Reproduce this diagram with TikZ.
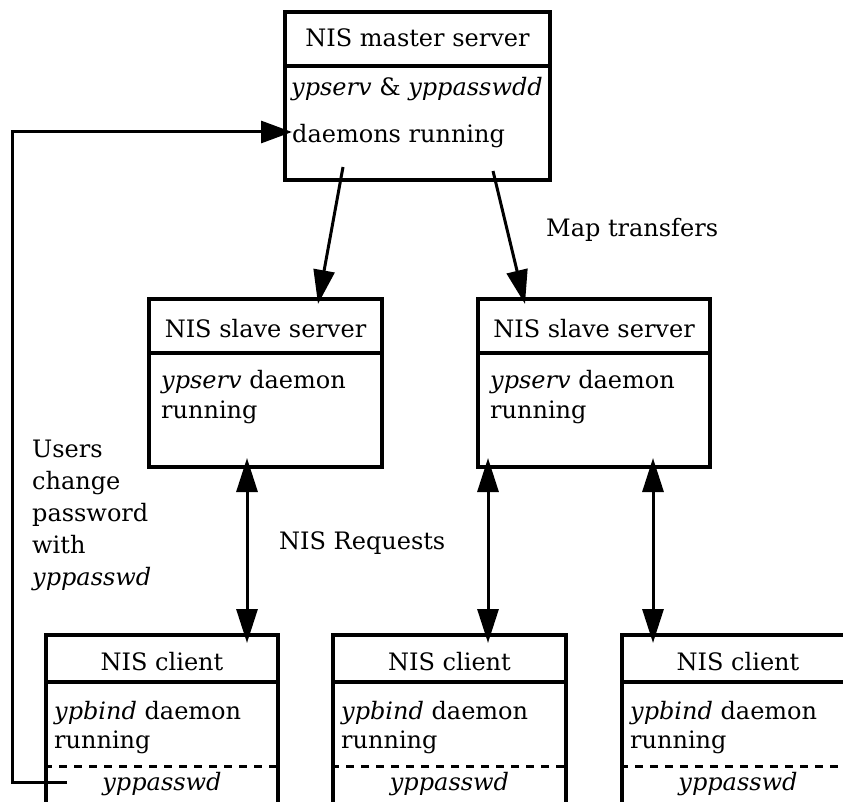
\documentclass[tikz,border=0pt]{standalone}
\usepackage{fontspec}
\setmainfont{DejaVu Serif}
\usetikzlibrary{arrows.meta,positioning}
\tikzset{>={Triangle[length=34pt,width=21pt]},
         box/.style={draw,line width=3.2pt,inner sep=0pt},
         lbl/.style={font=\fontsize{24}{32}\selectfont,inner sep=0pt},
         title/.style={lbl,anchor=base},
         line/.style={lbl,anchor=base west},
         conn/.style={line width=3pt},
         sep/.style={line width=3.2pt},
         dsep/.style={line width=3pt,dash pattern=on 8pt off 7pt}}

\begin{document}
\begin{tikzpicture}[x=1pt,y=-1pt]
  \useasboundingbox (0,0) rectangle (843,802);
  \clip (0,0) rectangle (843,802);
  % master
  \node[box,minimum width=265pt,minimum height=168pt] (master) at (417.5,96) {};
  \draw[sep] (master.west |- 0,66) -- (master.east |- 0,66);
  \node[title] (mtitle) at (417.5,47) {NIS master server};
  \node[line] (mline1) at (291,96) {\textit{ypserv} \& \textit{yppasswdd}};
  \node[line] (mline2) at (292,143) {daemons running};
  % slaves
  \node[box,minimum width=233pt,minimum height=168pt] (slaveA) at (265.5,383) {};
  \node[box,minimum width=232pt,minimum height=168pt] (slaveB) at (594,383) {};
  \draw[sep] (slaveA.west |- 0,353) -- (slaveA.east |- 0,353);
  \draw[sep] (slaveB.west |- 0,353) -- (slaveB.east |- 0,353);
  \node[title] (sAtitle) at (265.5,337) {NIS slave server};
  \node[title] (sBtitle) at (594,337) {NIS slave server};
  \node[line] (sAline1) at (161,388) {\textit{ypserv} daemon};
  \node[line] (sAline2) at (161,418) {running};
  \node[line] (sBline1) at (490,388) {\textit{ypserv} daemon};
  \node[line] (sBline2) at (490,418) {running};
  % clients
  \node[box,minimum width=232pt,minimum height=195pt] (clientA) at (162,732.5) {};
  \node[box,minimum width=233pt,minimum height=195pt] (clientB) at (449.5,732.5) {};
  \node[box,minimum width=232pt,minimum height=195pt] (clientC) at (738,732.5) {};
  \foreach \c in {clientA,clientB,clientC}{
    \draw[sep] (\c.west |- 0,682) -- (\c.east |- 0,682);
    \draw[dsep] (\c.west |- 0,766) -- (\c.east |- 0,766);
  }
  \node[title] (cAtitle) at (162,670) {NIS client};
  \node[title] (cBtitle) at (449.5,670) {NIS client};
  \node[title] (cCtitle) at (738,670) {NIS client};
  \node[line] (cAline1) at (54,719) {\textit{ypbind} daemon};
  \node[line] (cAline2) at (54,748) {running};
  \node[line] (cBline1) at (341,719) {\textit{ypbind} daemon};
  \node[line] (cBline2) at (341,748) {running};
  \node[line] (cCline1) at (630,719) {\textit{ypbind} daemon};
  \node[line] (cCline2) at (630,748) {running};
  \node[title] (cApw) at (162,790) {\textit{yppasswd}};
  \node[title] (cBpw) at (449.5,790) {\textit{yppasswd}};
  \node[title] (cCpw) at (738,790) {\textit{yppasswd}};
  % labels
  \node[line] (maplbl) at (546,237) {Map transfers};
  \node[line] (reqlbl) at (279,549) {NIS Requests};
  \node[lbl,anchor=north west,align=left] (userlbl) at (32,440)
    {Users\\change\\password\\with\\\textit{yppasswd}};
  % connectors
  \coordinate (mA) at (343,167);
  \coordinate (mB) at (493,171);
  \coordinate (sAin) at (318,304);
  \coordinate (sBin) at (525,304);
  \draw[conn,->] (mA) -- (sAin);
  \draw[conn,->] (mB) -- (sBin);
  \coordinate (sAout) at (247,458);
  \coordinate (sBout1) at (488,458);
  \coordinate (sBout2) at (653,458);
  \coordinate (cAin) at (247,643);
  \coordinate (cBin) at (488,643);
  \coordinate (cCin) at (653,643);
  \draw[conn,<->] (sAout) -- (cAin);
  \draw[conn,<->] (sBout1) -- (cBin);
  \draw[conn,<->] (sBout2) -- (cCin);
  \coordinate (pwout) at (67,782);
  \coordinate (min) at (292,132);
  \draw[conn,->,>={Triangle[length=31pt,width=22pt]}] (pwout) -- ++(-55,0) |- (min);
\end{tikzpicture}
\end{document}
